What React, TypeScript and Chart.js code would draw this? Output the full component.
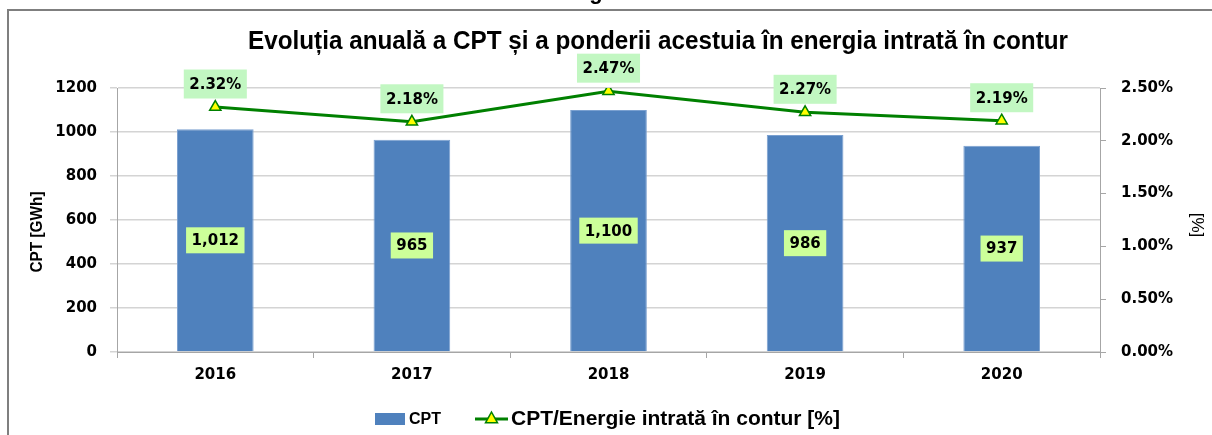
import React, { useEffect, useRef } from "react";
import { Chart, registerables } from "chart.js";

Chart.register(...registerables);

const categories = ["2016", "2017", "2018", "2019", "2020"];
const cptValues = [1012, 965, 1100, 986, 937];
const shareValues = [2.32, 2.18, 2.47, 2.27, 2.19];
const chartTitle = "Evoluția anuală a CPT și a ponderii acestuia în energia intrată în contur";
const leftAxisTitle = "CPT [GWh]";
const rightAxisTitle = "[%]";
const legendBar = "CPT";
const legendLine = "CPT/Energie intrată în contur [%]";
const topFragment = "g";

const BAR_COLOR = "#4f81bd";
const LINE_COLOR = "#008000";
const TICK_FONT = "DejaVu Sans";
const TEXT_FONT = "Liberation Sans";

const decorPlugin = {
  id: "decor",
  beforeDraw(chart: any) {
    const ctx = chart.ctx;
    ctx.save();
    ctx.fillStyle = "#ffffff";
    ctx.fillRect(0, 0, chart.width, chart.height);
    ctx.strokeStyle = "#7f7f7f";
    ctx.lineWidth = 2;
    ctx.beginPath();
    ctx.moveTo(8, chart.height + 5);
    ctx.lineTo(8, 10);
    ctx.lineTo(chart.width + 5, 10);
    ctx.stroke();
    ctx.fillStyle = "#000";
    ctx.font = `bold 22px ${TEXT_FONT}`;
    ctx.textAlign = "center";
    ctx.textBaseline = "alphabetic";
    ctx.fillText(topFragment, 596, -1);
    ctx.restore();
  },
  afterDraw(chart: any) {
    const ctx = chart.ctx;
    ctx.save();
    ctx.fillStyle = "#000";
    ctx.font = `bold 25px ${TEXT_FONT}`;
    ctx.textAlign = "center";
    ctx.textBaseline = "middle";
    ctx.fillText(chartTitle, 658, 42, 820);
    ctx.save();
    ctx.translate(38, 232);
    ctx.rotate(-Math.PI / 2);
    ctx.font = `bold 16px ${TEXT_FONT}`;
    ctx.fillText(leftAxisTitle, 0, 0, 81);
    ctx.restore();
    ctx.save();
    ctx.translate(1197, 225);
    ctx.rotate(Math.PI / 2);
    ctx.font = `17px ${TEXT_FONT}`;
    ctx.fillText(rightAxisTitle, 0, 0);
    ctx.restore();
    const ly = 419;
    ctx.fillStyle = BAR_COLOR;
    ctx.fillRect(375, ly - 6, 30, 12);
    ctx.fillStyle = "#000";
    ctx.textAlign = "left";
    ctx.font = `bold 16px ${TEXT_FONT}`;
    ctx.fillText(legendBar, 409, ly + 1);
    ctx.strokeStyle = LINE_COLOR;
    ctx.lineWidth = 3;
    ctx.beginPath();
    ctx.moveTo(475, ly);
    ctx.lineTo(508, ly);
    ctx.stroke();
    drawTriangle(ctx, 491.5, ly - 1, 6);
    ctx.fillStyle = "#000";
    ctx.font = `bold 21px ${TEXT_FONT}`;
    ctx.fillText(legendLine, 511, ly, 339);
    ctx.restore();
  },
  afterDatasetsDraw(chart: any) {
    const ctx = chart.ctx;
    ctx.save();
    ctx.textAlign = "center";
    ctx.textBaseline = "middle";
    ctx.font = `bold 15px ${TICK_FONT}`;
    const barMeta = chart.getDatasetMeta(1);
    barMeta.data.forEach((el: any, i: number) => {
      const txt = cptValues[i].toLocaleString("en-US");
      const w = ctx.measureText(txt).width + 11;
      const h = 26;
      const cy = (el.y + el.base) / 2;
      ctx.fillStyle = "#ccff99";
      ctx.fillRect(el.x - w / 2, cy - h / 2, w, h);
      ctx.fillStyle = "#000";
      ctx.fillText(txt, el.x, cy + 1);
    });
    const lineMeta = chart.getDatasetMeta(0);
    lineMeta.data.forEach((el: any, i: number) => {
      const txt = shareValues[i].toFixed(2) + "%";
      const w = ctx.measureText(txt).width + 11;
      const h = 29;
      const cy = el.y - 23;
      ctx.fillStyle = "#c2f7c2";
      ctx.fillRect(el.x - w / 2, cy - h / 2, w, h);
      ctx.fillStyle = "#000";
      ctx.fillText(txt, el.x, cy + 1);
    });
    ctx.restore();
  },
};

function drawTriangle(ctx: any, x: number, y: number, r: number) {
  ctx.save();
  ctx.beginPath();
  ctx.moveTo(x, y - r);
  ctx.lineTo(x + r, y + r * 0.8);
  ctx.lineTo(x - r, y + r * 0.8);
  ctx.closePath();
  ctx.fillStyle = "#ffff00";
  ctx.fill();
  ctx.strokeStyle = LINE_COLOR;
  ctx.lineWidth = 1.5;
  ctx.stroke();
  ctx.restore();
}

export default function App() {
  const ref = useRef<HTMLCanvasElement | null>(null);
  useEffect(() => {
    document.body.style.margin = "0";
    const canvas = ref.current;
    if (!canvas) return;
    const tickFont = { family: TICK_FONT, size: 15, weight: "bold" as const };
    const chart = new Chart(canvas, {
      type: "bar",
      data: {
        labels: categories,
        datasets: [
          {
            type: "line" as const,
            label: legendLine,
            data: shareValues,
            yAxisID: "y1",
            order: 0,
            borderColor: LINE_COLOR,
            borderWidth: 3,
            pointStyle: "triangle",
            pointRadius: 6.5,
            pointBackgroundColor: "#ffff00",
            pointBorderColor: LINE_COLOR,
            pointBorderWidth: 1.5,
            tension: 0,
          },
          {
            type: "bar" as const,
            label: legendBar,
            data: cptValues,
            yAxisID: "y",
            order: 1,
            backgroundColor: BAR_COLOR,
            borderColor: "#7aa0d0",
            borderWidth: 1,
            barPercentage: 0.39,
            categoryPercentage: 1,
          },
        ],
      },
      options: {
        responsive: false,
        animation: false,
        devicePixelRatio: 1,
        layout: { padding: { top: 88, bottom: 43, left: 0, right: 0 } },
        plugins: {
          legend: { display: false },
          title: { display: false },
          tooltip: { enabled: false },
        },
        scales: {
          x: {
            grid: { offset: true, drawOnChartArea: false, tickLength: 6, color: "#a6a6a6" },
            border: { color: "#a6a6a6" },
            ticks: { font: tickFont, color: "#000", padding: 8 },
            afterFit: (s: any) => {
              s.height = 40;
            },
          },
          y: {
            position: "left",
            min: 0,
            max: 1200,
            ticks: {
              stepSize: 200,
              font: tickFont,
              color: "#000",
              padding: 13,
              callback: (v: any) => String(v),
            },
            grid: { color: "#d4d4d4", tickLength: 7, lineWidth: 1.5 },
            border: { color: "#a6a6a6" },
            afterFit: (s: any) => {
              s.width = 117;
            },
          },
          y1: {
            position: "right",
            min: 0,
            max: 2.5,
            ticks: {
              stepSize: 0.5,
              font: tickFont,
              color: "#000",
              padding: 15,
              callback: (v: any) => Number(v).toFixed(2) + "%",
            },
            grid: { drawOnChartArea: false, tickLength: 6, color: "#a6a6a6" },
            border: { color: "#a6a6a6" },
            afterFit: (s: any) => {
              s.width = 112;
            },
          },
        },
      },
      plugins: [decorPlugin],
    });
    return () => chart.destroy();
  }, []);
  return (
    <div style={{ width: 1212, height: 435 }}>
      <canvas ref={ref} width={1212} height={435} style={{ display: "block" }} />
    </div>
  );
}
